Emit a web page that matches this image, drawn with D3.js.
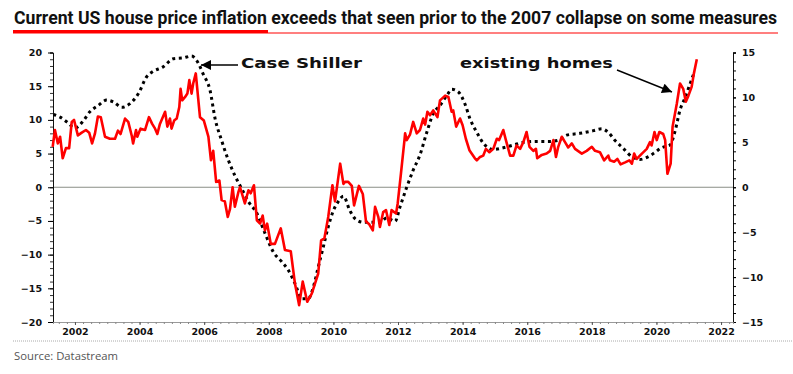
<!DOCTYPE html>
<html><head><meta charset="utf-8">
<script src="https://cdn.jsdelivr.net/npm/d3@7"></script>
<style>body{margin:0;background:#fff}svg{display:block}</style>
</head><body><div id="chart"></div>
<script>
// ---- data ----
const existingDates = [2001.31,2001.38,2001.47,2001.54,2001.62,2001.72,2001.82,2001.90,2001.97,2002.09,2002.21,2002.34,2002.44,2002.53,2002.62,2002.71,2002.80,2002.93,2003.08,2003.24,2003.33,2003.41,2003.55,2003.65,2003.76,2003.80,2003.89,2003.93,2004.03,2004.17,2004.29,2004.39,2004.48,2004.55,2004.63,2004.79,2004.86,2004.94,2004.99,2005.07,2005.15,2005.23,2005.27,2005.32,2005.41,2005.48,2005.54,2005.61,2005.66,2005.74,2005.80,2005.87,2005.99,2006.13,2006.21,2006.28,2006.37,2006.47,2006.54,2006.64,2006.73,2006.80,2006.88,2006.95,2007.06,2007.11,2007.26,2007.37,2007.44,2007.54,2007.63,2007.73,2007.81,2007.88,2007.95,2008.06,2008.19,2008.37,2008.50,2008.68,2008.81,2008.94,2009.05,2009.19,2009.33,2009.43,2009.53,2009.62,2009.72,2009.84,2009.97,2010.05,2010.21,2010.31,2010.36,2010.46,2010.57,2010.64,2010.79,2010.91,2011.01,2011.11,2011.22,2011.29,2011.39,2011.44,2011.54,2011.63,2011.73,2011.80,2011.94,2011.99,2012.09,2012.20,2012.22,2012.27,2012.37,2012.47,2012.58,2012.68,2012.78,2012.84,2012.91,2012.99,2013.09,2013.22,2013.30,2013.46,2013.56,2013.66,2013.71,2013.80,2013.92,2014.00,2014.10,2014.21,2014.38,2014.44,2014.54,2014.64,2014.72,2014.83,2014.95,2015.06,2015.13,2015.26,2015.34,2015.47,2015.57,2015.67,2015.78,2015.88,2015.98,2016.07,2016.19,2016.27,2016.31,2016.45,2016.60,2016.71,2016.81,2016.89,2016.96,2017.07,2017.17,2017.27,2017.38,2017.48,2017.69,2017.84,2018.00,2018.10,2018.25,2018.38,2018.51,2018.56,2018.69,2018.79,2018.89,2019.03,2019.16,2019.24,2019.31,2019.39,2019.55,2019.70,2019.80,2019.85,2019.94,2020.01,2020.09,2020.21,2020.27,2020.34,2020.44,2020.50,2020.63,2020.73,2020.83,2020.91,2020.99,2021.09,2021.16,2021.25];
const existingValues = [6.0,8.5,6.5,7.5,4.3,5.8,5.8,9.7,10.0,7.7,8.1,8.5,8.1,6.5,8.0,10.5,10.4,7.5,7.2,7.2,8.4,7.9,10.2,9.7,7.6,6.5,8.5,7.5,8.7,8.5,10.4,9.4,8.7,7.9,9.4,11.2,9.0,10.2,8.7,9.9,10.2,11.9,14.6,12.9,13.4,13.9,15.9,13.9,15.4,16.9,13.9,10.4,9.9,7.5,4.0,5.4,0.8,1.0,-1.9,-2.1,-4.4,-3.2,0.0,-2.9,-0.7,0.0,-2.4,-0.45,-0.9,0.3,-4.9,-5.4,-4.2,-6.4,-5.4,-8.4,-8.4,-6.1,-9.3,-9.5,-14.3,-17.5,-14.0,-17.0,-15.8,-14.3,-12.8,-7.9,-7.6,-4.4,0.3,-2.1,3.5,0.5,0.8,0.8,0.2,-2.7,0.2,-1.0,-5.1,-5.5,-6.4,-2.9,-4.4,-5.9,-3.7,-3.4,-5.6,-3.4,-3.9,-2.4,2.0,7.0,8.0,7.0,7.8,9.7,8.0,8.5,10.2,9.3,11.2,10.7,11.4,10.4,12.9,13.6,13.4,11.2,11.4,9.0,10.2,9.2,7.2,5.5,4.3,4.0,4.5,4.7,5.7,5.2,5.7,7.2,7.0,8.5,7.0,4.7,4.7,6.2,5.7,6.7,8.2,6.0,5.4,5.7,4.3,4.8,5.0,5.4,7.0,4.5,6.0,7.5,6.7,5.9,6.5,5.7,5.0,5.4,6.0,5.4,5.2,4.0,4.7,4.0,3.8,4.2,3.4,3.7,4.0,3.5,5.0,4.2,5.0,5.7,6.7,6.2,8.2,7.0,8.2,7.9,7.0,2.0,3.5,9.0,12.4,15.4,14.6,12.7,13.6,14.9,16.9,19.0];
const caseShillerDates = [2001.33,2001.54,2001.74,2002.00,2002.26,2002.46,2002.72,2002.98,2003.19,2003.45,2003.70,2003.96,2004.22,2004.42,2004.73,2005.04,2005.35,2005.61,2005.77,2005.97,2006.18,2006.34,2006.54,2006.75,2006.95,2007.16,2007.37,2007.63,2007.88,2008.14,2008.40,2008.60,2008.81,2009.02,2009.22,2009.38,2009.53,2009.69,2009.84,2010.00,2010.15,2010.31,2010.51,2010.67,2010.93,2011.19,2011.44,2011.65,2011.91,2012.06,2012.27,2012.47,2012.68,2012.89,2013.09,2013.30,2013.51,2013.66,2013.87,2014.07,2014.23,2014.44,2014.64,2014.95,2015.26,2015.57,2015.88,2016.29,2016.71,2017.02,2017.22,2017.63,2018.05,2018.31,2018.51,2018.72,2018.98,2019.24,2019.49,2019.75,2019.96,2020.16,2020.42,2020.58,2020.73,2020.89,2021.04,2021.17];
const caseShillerValues = [8.1,7.8,7.3,6.6,7.4,8.4,9.1,9.7,9.5,8.9,9.3,10.4,12.3,12.9,13.4,14.3,14.4,14.6,14.1,12.6,10.8,7.6,5.2,3.0,1.3,-0.15,-1.6,-2.9,-5.1,-7.2,-8.3,-9.2,-10.7,-12.4,-12.4,-11.1,-8.9,-6.6,-4.4,-2.6,-1.6,-1.0,-2.6,-3.5,-3.9,-3.9,-3.9,-3.4,-3.8,-2.2,0.0,1.9,3.6,6.1,8.2,9.1,10.2,10.9,10.6,9.3,7.6,6.1,4.9,4.2,4.4,4.7,5.0,5.1,5.1,5.3,5.8,6.0,6.3,6.5,6.1,5.2,4.3,3.4,3.1,3.4,3.9,4.4,4.7,6.3,8.6,10.0,11.5,12.8];
const xTickYears = [2002,2004,2006,2008,2010,2012,2014,2016,2018,2020,2022];
const leftTicks = [-20,-15,-10,-5,0,5,10,15,20];
const rightTicks = [-15,-10,-5,0,5,10,15];
const titleText = "Current US house price inflation exceeds that seen prior to the 2007 collapse on some measures";
const sourceText = "Source: Datastream";

// ---- layout ----
const W = 793, H = 374;
const plot = {left: 53, right: 733, top: 52.5, bottom: 322};
const svg = d3.select("#chart").append("svg").attr("width", W).attr("height", H);
svg.append("rect").attr("width", W).attr("height", H).attr("fill", "#fff");

const x = d3.scaleLinear().domain([2001.32, 2022.37]).range([plot.left, plot.right]);
const yL = d3.scaleLinear().domain([-20, 20]).range([plot.bottom, plot.top]);
const yR = d3.scaleLinear().domain([-15, 15]).range([plot.bottom, plot.top]);

// title
svg.append("text").attr("x", 14).attr("y", 24)
  .attr("font-family", "'Liberation Sans Narrow','Roboto','Open Sans',sans-serif")
  .attr("font-weight", 700).attr("font-size", 17.5).attr("fill", "#111")
  .attr("textLength", 763).attr("lengthAdjust", "spacingAndGlyphs")
  .text(titleText);
svg.append("rect").attr("x", 13).attr("y", 30).attr("width", 255).attr("height", 3.5).attr("fill", "#f00");
svg.append("rect").attr("x", 268).attr("y", 32.5).attr("width", 510).attr("height", 1).attr("fill", "#f00");

// zero line
svg.append("line").attr("x1", plot.left).attr("x2", plot.right)
  .attr("y1", yL(0)).attr("y2", yL(0)).attr("stroke", "#8a8f86").attr("stroke-width", 1);

const tickFont = "'DejaVu Sans',sans-serif";

// left axis
const gL = svg.append("g").attr("transform", `translate(${plot.left},0)`);
gL.call(d3.axisLeft(yL).tickValues(d3.range(-20, 21, 1)).tickSize(3).tickFormat(""));
gL.call(g => g.selectAll(".tick line").attr("stroke", "#333"));
gL.select(".domain").attr("stroke", "#111");
const gL2 = svg.append("g").attr("transform", `translate(${plot.left},0)`);
gL2.call(d3.axisLeft(yL).tickValues(leftTicks).tickSize(5).tickPadding(6).tickFormat(d3.format("d")));
gL2.select(".domain").remove();
gL2.selectAll("text").attr("font-family", tickFont).attr("font-weight", 700).attr("font-size", 9.5).attr("fill", "#111");

// right axis
const gR = svg.append("g").attr("transform", `translate(${plot.right},0)`);
gR.call(d3.axisRight(yR).tickValues(d3.range(-15, 16, 1)).tickSize(3).tickFormat(""));
gR.select(".domain").attr("stroke", "#111");
const gR2 = svg.append("g").attr("transform", `translate(${plot.right},0)`);
gR2.call(d3.axisRight(yR).tickValues(rightTicks).tickSize(3).tickPadding(6).tickFormat(d3.format("d")));
gR2.select(".domain").remove();
gR2.selectAll("text").attr("font-family", tickFont).attr("font-weight", 700).attr("font-size", 9.5).attr("fill", "#111");

// bottom axis
const gB = svg.append("g").attr("transform", `translate(0,${plot.bottom})`);
const quarters = d3.range(2001.5, 2022.37, 0.25);
gB.call(d3.axisBottom(x).tickValues(quarters).tickSize(2).tickFormat(""));
gB.select(".domain").attr("stroke", "#999");
gB.selectAll(".tick line").attr("stroke", "#888");
const gB2 = svg.append("g").attr("transform", `translate(0,${plot.bottom})`);
gB2.call(d3.axisBottom(x).tickValues(xTickYears).tickSize(3).tickPadding(3).tickFormat(d3.format("d")));
gB2.select(".domain").remove();
gB2.selectAll(".tick line").attr("stroke", "#555");
gB2.selectAll("text").attr("font-family", tickFont).attr("font-weight", 700).attr("font-size", 9.5).attr("fill", "#111");

// series
const csData = caseShillerDates.map((d, i) => [d, caseShillerValues[i]]);
const exData = existingDates.map((d, i) => [d, existingValues[i]]);

svg.append("path").datum(csData)
  .attr("d", d3.line().x(d => x(d[0])).y(d => yR(d[1])).curve(d3.curveMonotoneX))
  .attr("fill", "none").attr("stroke", "#000").attr("stroke-width", 3)
  .attr("stroke-dasharray", "3,3.6");

svg.append("path").datum(exData)
  .attr("d", d3.line().x(d => x(d[0])).y(d => yL(d[1])))
  .attr("fill", "none").attr("stroke", "#f00").attr("stroke-width", 2.6)
  .attr("stroke-linejoin", "round");

// annotations
const defs = svg.append("defs");
defs.append("marker").attr("id", "arr").attr("viewBox", "0 0 10 10")
  .attr("refX", 10).attr("refY", 5).attr("markerWidth", 11).attr("markerHeight", 10)
  .attr("markerUnits", "userSpaceOnUse").attr("orient", "auto")
  .append("path").attr("d", "M0,0 L10,5 L0,10 Z").attr("fill", "#000");

const annFont = "'DejaVu Sans',Arial,sans-serif";
svg.append("text").attr("x", 241).attr("y", 67.5)
  .attr("font-family", annFont).attr("font-weight", 700).attr("font-size", 13.5)
  .attr("textLength", 121).attr("lengthAdjust", "spacingAndGlyphs").attr("fill", "#111")
  .text("Case Shiller");
svg.append("line").attr("x1", 238).attr("y1", 65).attr("x2", 201).attr("y2", 65)
  .attr("stroke", "#000").attr("stroke-width", 1.5).attr("marker-end", "url(#arr)");

svg.append("text").attr("x", 460).attr("y", 68)
  .attr("font-family", annFont).attr("font-weight", 700).attr("font-size", 13.5)
  .attr("textLength", 153).attr("lengthAdjust", "spacingAndGlyphs").attr("fill", "#111")
  .text("existing homes");
svg.append("line").attr("x1", 617).attr("y1", 70).attr("x2", 672).attr("y2", 92)
  .attr("stroke", "#000").attr("stroke-width", 1.5).attr("marker-end", "url(#arr)");

// footer
svg.append("line").attr("x1", 13).attr("x2", W).attr("y1", 341).attr("y2", 341)
  .attr("stroke", "#aaa").attr("stroke-width", 1).attr("stroke-dasharray", "1,1");
svg.append("text").attr("x", 14).attr("y", 360)
  .attr("font-family", "'Open Sans',sans-serif").attr("font-weight", 400).attr("font-size", 11.5)
  .attr("fill", "#555").attr("textLength", 104).attr("lengthAdjust", "spacingAndGlyphs")
  .text(sourceText);
</script></body></html>
